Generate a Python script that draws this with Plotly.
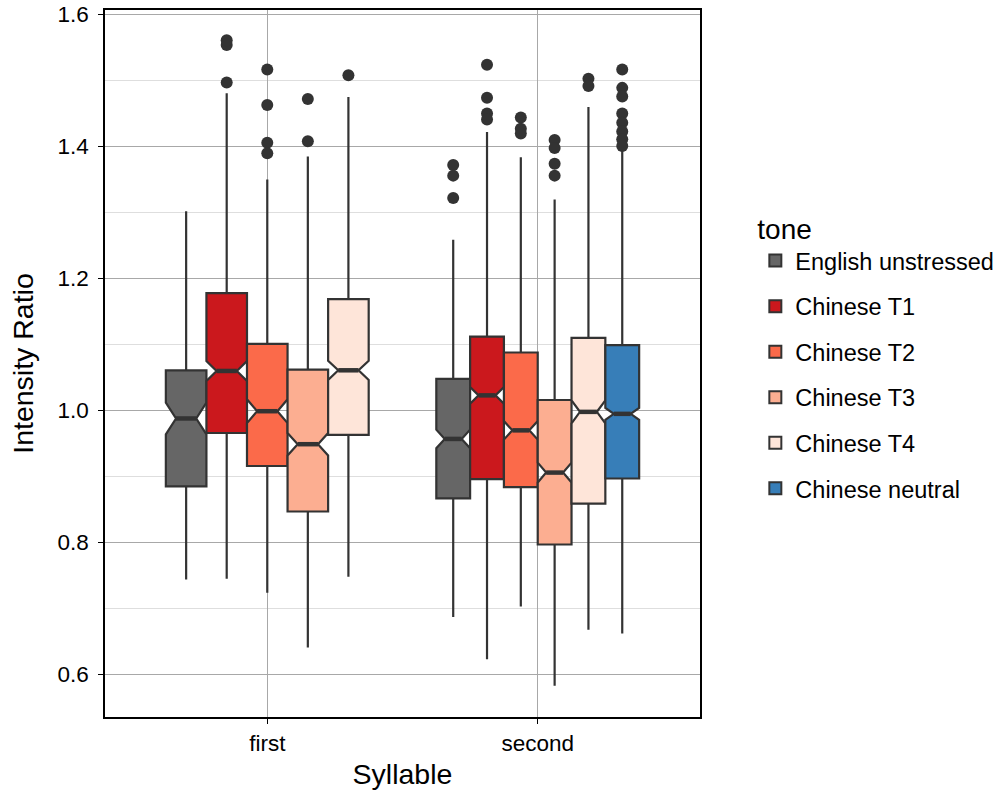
import plotly.graph_objects as go

# ---------------- data ----------------
syllables = ["first", "second"]
tones = ["English unstressed", "Chinese T1", "Chinese T2", "Chinese T3",
         "Chinese T4", "Chinese neutral"]
tone_colors = ["#666666", "#CB181D", "#FB6A4A", "#FCAE91", "#FEE5D9", "#377EB8"]

# syllable "first" (5 tones, no neutral)
first_tones = tones[:5]
q1_first = [0.885, 0.966, 0.916, 0.847, 0.963]
median_first = [0.988, 1.060, 0.999, 0.949, 1.061]
q3_first = [1.061, 1.178, 1.101, 1.062, 1.169]
lower_first = [0.744, 0.745, 0.724, 0.641, 0.748]
upper_first = [1.302, 1.481, 1.350, 1.385, 1.475]
notch_first = [0.024, 0.015, 0.018, 0.017, 0.0145]
outliers_first = [[], [1.497, 1.554, 1.561], [1.517, 1.463, 1.406, 1.390],
                  [1.472, 1.408], [1.508]]

# syllable "second" (6 tones)
second_tones = tones[:6]
q1_second = [0.867, 0.896, 0.884, 0.797, 0.859, 0.897]
median_second = [0.957, 1.023, 0.970, 0.906, 0.998, 0.995]
q3_second = [1.048, 1.112, 1.088, 1.016, 1.110, 1.099]
lower_second = [0.687, 0.623, 0.703, 0.583, 0.668, 0.662]
upper_second = [1.259, 1.422, 1.384, 1.320, 1.460, 1.395]
notch_second = [0.014, 0.0125, 0.014, 0.015, 0.0175, 0.009]
outliers_second = [[1.372, 1.356, 1.322], [1.524, 1.474, 1.450, 1.441],
                   [1.444, 1.427, 1.420], [1.410, 1.398, 1.374, 1.356],
                   [1.503, 1.492],
                   [1.517, 1.489, 1.476, 1.450, 1.436, 1.423, 1.411, 1.401]]

y_ticks = [0.6, 0.8, 1.0, 1.2, 1.4, 1.6]
y_minor = [0.7, 0.9, 1.1, 1.3, 1.5]

# ---------------- figure ----------------
FONT = "Liberation Sans"
OUTLINE = "#333333"
DODGE = 0.75

groups = [
    (0, first_tones, q1_first, median_first, q3_first, lower_first, upper_first,
     notch_first, outliers_first),
    (1, second_tones, q1_second, median_second, q3_second, lower_second,
     upper_second, notch_second, outliers_second),
]

fig = go.Figure()
shown = set()
for gi, names, q1, med, q3, lo, hi, notch, outs in groups:
    n = len(names)
    w = DODGE / n
    for i, name in enumerate(names):
        ti = tones.index(name)
        pos = gi + (i - (n - 1) / 2) * w
        fig.add_trace(go.Box(
            x=[pos], q1=[q1[i]], median=[med[i]], q3=[q3[i]],
            lowerfence=[lo[i]], upperfence=[hi[i]], notchspan=[notch[i]],
            notched=True, notchwidth=0.25, width=w, whiskerwidth=0,
            boxpoints=False, fillcolor=tone_colors[ti],
            line=dict(color=OUTLINE, width=2.2),
            name=name, legendgroup=name, legendrank=ti + 1,
            showlegend=name not in shown,
        ))
        shown.add(name)
        # thicker median segment, as in ggplot
        fig.add_trace(go.Scatter(
            x=[pos - w / 4, pos + w / 4], y=[med[i], med[i]], mode="lines",
            line=dict(color=OUTLINE, width=4.5), showlegend=False,
            hoverinfo="skip", legendgroup=name,
        ))
        if outs[i]:
            fig.add_trace(go.Scatter(
                x=[pos] * len(outs[i]), y=outs[i], mode="markers",
                marker=dict(color=OUTLINE, size=12), showlegend=False,
                legendgroup=name,
            ))

fig.update_layout(
    width=1001, height=795,
    margin=dict(l=105, r=301, t=10, b=78, autoexpand=False),
    paper_bgcolor="white", plot_bgcolor="white",
    boxmode="overlay",
    font=dict(family=FONT, color="black", size=22),
    showlegend=True,
    legend=dict(
        title=dict(text="tone", font=dict(size=28, family=FONT)),
        font=dict(size=23.5, family=FONT),
        x=1.093, xanchor="left", y=0.51, yanchor="middle",
        tracegroupgap=12, itemsizing="constant",
        bgcolor="rgba(0,0,0,0)",
    ),
    xaxis=dict(
        range=[-0.6, 1.6], tickmode="array", tickvals=[0, 1],
        ticktext=syllables, showgrid=True, gridcolor="#a8a8a8", gridwidth=1,
        zeroline=False, showline=True, linecolor="black", linewidth=1.5,
        mirror=True, ticks="outside", ticklen=5, tickcolor="black",
        automargin=False,
        tickfont=dict(size=22.5, family=FONT, color="black"),
        title=dict(text="Syllable", font=dict(size=28.5, family=FONT), standoff=9),
    ),
    yaxis=dict(
        range=[0.5356, 1.607], tickmode="array", tickvals=y_ticks,
        ticktext=[f"{v:.1f}" for v in y_ticks],
        showgrid=True, gridcolor="#a8a8a8", gridwidth=1,
        minor=dict(tickmode="array", tickvals=y_minor,
                   showgrid=True, gridcolor="#dedede", gridwidth=1, ticks=""),
        zeroline=False, showline=True, linecolor="black", linewidth=1.5,
        mirror=True, ticks="outside", ticklen=5, tickcolor="black",
        automargin=False, ticklabelstandoff=5, ticklabeloverflow="allow",
        tickfont=dict(size=22.5, family=FONT, color="black"),
        title=dict(text="Intensity Ratio", font=dict(size=28.5, family=FONT),
                   standoff=15),
    ),
)

fig.write_html("out.html", config={"displayModeBar": False},
               post_script="document.body.style.margin='0';")
